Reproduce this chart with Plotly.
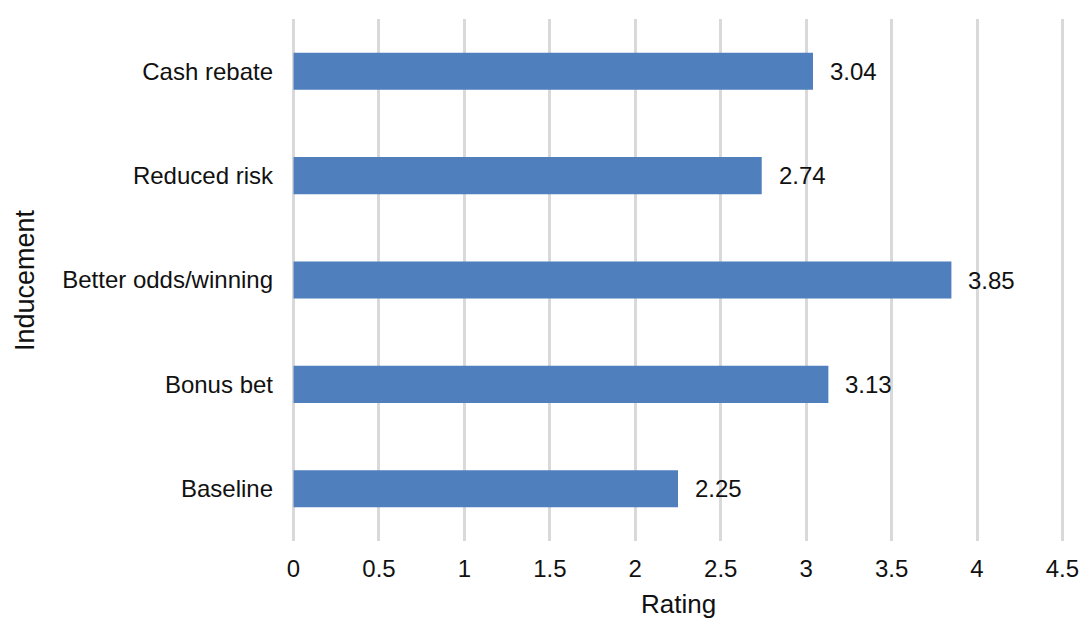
import plotly.graph_objects as go

categories = ["Cash rebate", "Reduced risk", "Better odds/winning", "Bonus bet", "Baseline"]
ratings = [3.04, 2.74, 3.85, 3.13, 2.25]
x_ticks = [0, 0.5, 1, 1.5, 2, 2.5, 3, 3.5, 4, 4.5]
x_ticklabels = ["0", "0.5", "1", "1.5", "2", "2.5", "3", "3.5", "4", "4.5"]
value_labels = [f"{v:.2f}" for v in ratings]

FONT = "Liberation Sans, Arial, sans-serif"
BAR_COLOR = "#4f7fbd"
GRID = "#d9d9d9"
TEXT = "#111111"

fig = go.Figure()
fig.add_trace(go.Bar(
    y=categories,
    x=ratings,
    orientation="h",
    marker=dict(color=BAR_COLOR, line=dict(width=0)),
    width=0.355,
    hoverinfo="x+y",
))

for cat, val, lab in zip(categories, ratings, value_labels):
    fig.add_annotation(
        x=val, y=cat, text=lab, showarrow=False,
        xanchor="left", yanchor="middle", xshift=15,
        font=dict(family=FONT, size=24, color=TEXT),
    )

# axis titles
fig.add_annotation(
    x=0.5, y=0, xref="paper", yref="paper", yshift=-63,
    text="Rating", showarrow=False, xanchor="center", yanchor="middle",
    font=dict(family=FONT, size=26, color=TEXT),
)
fig.add_annotation(
    x=0, y=0.5, xref="paper", yref="paper", xshift=-267,
    text="Inducement", showarrow=False, textangle=-90,
    xanchor="center", yanchor="middle",
    font=dict(family=FONT, size=27, color=TEXT),
)

fig.update_layout(
    width=1081,
    height=618,
    margin=dict(l=292, r=17, t=19, b=77),
    paper_bgcolor="white",
    plot_bgcolor="white",
    showlegend=False,
    font=dict(family=FONT, size=24, color=TEXT),
    bargap=0.645,
)
fig.update_xaxes(
    range=[-0.009, 4.509],
    tickvals=x_ticks,
    ticktext=x_ticklabels,
    showgrid=True,
    gridcolor=GRID,
    gridwidth=2.5,
    zeroline=False,
    showline=False,
    ticks="",
    ticklabelstandoff=11,
    tickfont=dict(family=FONT, size=24, color=TEXT),
    automargin=False,
)
fig.update_yaxes(
    categoryorder="array",
    categoryarray=categories[::-1],
    showgrid=False,
    zeroline=False,
    showline=False,
    ticks="",
    ticklabelstandoff=18,
    tickfont=dict(family=FONT, size=24, color=TEXT),
    automargin=False,
)

fig.write_html(
    "out.html",
    config={"displayModeBar": False},
    post_script="document.body.style.margin='0';document.body.style.overflow='hidden';",
)
